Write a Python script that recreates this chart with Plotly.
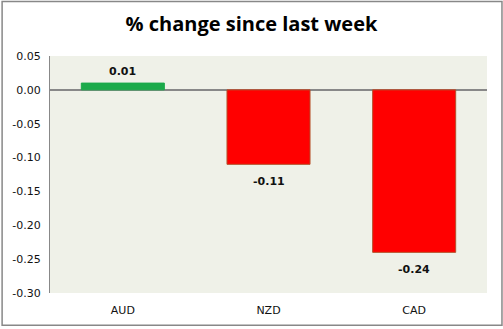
import plotly.graph_objects as go

categories = ["AUD", "NZD", "CAD"]
values = [0.01, -0.11, -0.24]
labels = ["0.01", "-0.11", "-0.24"]
tick_vals = [0.05, 0.0, -0.05, -0.10, -0.15, -0.20, -0.25, -0.30]
tick_text = ["0.05", "0.00", "-0.05", "-0.10", "-0.15", "-0.20", "-0.25", "-0.30"]
colors = ["#1BAA4A", "#FF0000", "#FF0000"]
line_colors = ["#1BAA4A", "#B5502A", "#B5502A"]

fig = go.Figure(go.Bar(
    x=categories, y=values,
    marker=dict(color=colors, line=dict(color=line_colors, width=1)),
    width=0.57,
))

for c, v, t in zip(categories, values, labels):
    fig.add_annotation(x=c, y=v, text=f"<b>{t}</b>", showarrow=False,
                       yanchor="middle", yshift=12 if v >= 0 else -17,
                       font=dict(family="DejaVu Sans", size=11, color="#111111"))

L, R, T, B = 49, 16, 56, 34
W, H = 503, 329
pw, ph = W - L - R, H - T - B

def px2x(x):
    return (x - L) / pw

def px2y(y):
    return (H - B - y) / ph

fig.update_layout(
    width=W, height=H,
    margin=dict(l=L, r=R, t=T, b=B),
    paper_bgcolor="white",
    plot_bgcolor="#EFF1E8",
    showlegend=False,
    title=dict(text="<b>% change since last week</b>", x=0.5, xanchor="center",
               y=1 - 24 / H, yanchor="middle",
               font=dict(family="Open Sans", size=20, color="black")),
    xaxis=dict(showline=False, ticks="", showgrid=False, zeroline=False,
               ticklabelstandoff=9,
               tickfont=dict(family="DejaVu Sans", size=11, color="#111111")),
    yaxis=dict(range=[-0.30, 0.05], tickvals=tick_vals, ticktext=tick_text,
               showgrid=False, zeroline=True, zerolinecolor="#888888", zerolinewidth=1.5,
               showline=True, linecolor="#888888", linewidth=1, ticks="",
               ticklabelstandoff=6,
               tickfont=dict(family="DejaVu Sans", size=11, color="#111111")),
    shapes=[dict(type="rect", xref="paper", yref="paper",
                 x0=px2x(1), x1=px2x(502), y0=px2y(327.5), y1=px2y(1),
                 line=dict(color="#888888", width=1.5), fillcolor="rgba(0,0,0,0)",
                 layer="below")],
)

fig.write_html("out.html")
